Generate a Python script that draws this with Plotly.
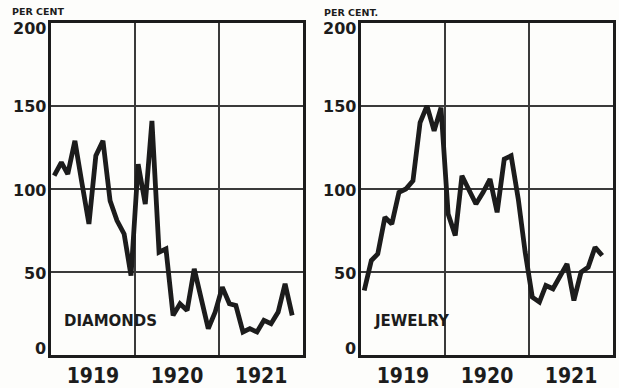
import pandas as pd
import plotly.graph_objects as go
from plotly.subplots import make_subplots

# monthly index values, Jan 1919 .. Nov 1921
months = pd.date_range("1919-01-01", periods=35, freq="MS") + pd.Timedelta(days=14)
diamonds = [108, 116, 109, 129, 104, 79, 120, 129, 93, 81, 73, 48,
            115, 91, 141, 62, 64, 24, 31, 27, 52, 35, 16, 26,
            41, 31, 30, 14, 16, 14, 21, 19, 26, 43, 24]
jewelry = [39, 57, 61, 83, 79, 98, 100, 105, 140, 150, 135, 149,
           85, 72, 108, 99, 91, 98, 106, 86, 118, 120, 94, 62,
           35, 32, 42, 40, 48, 55, 33, 50, 53, 65, 60]
y_ticks = [0, 50, 100, 150, 200]
panel_titles = ["DIAMONDS", "JEWELRY"]
unit_labels = ["PER CENT", "PER CENT."]

W, H = 619, 388
INK = "#1c1c1c"
GRID = "#3a3a3a"

fig = make_subplots(rows=1, cols=2)
for i, series in enumerate([diamonds, jewelry]):
    fig.add_trace(go.Scatter(x=months, y=series, mode="lines",
                             line=dict(color=INK, width=4.8),
                             hoverinfo="skip", showlegend=False),
                  row=1, col=i + 1)

doms_x = [[51 / W, 303 / W], [361 / W, 613 / W]]
dom_y = [1 - 359 / H, 1 - 23 / H]
xfont = dict(family="Liberation Sans Narrow, DejaVu Sans Condensed, sans-serif",
             size=21, color=INK, weight="bold")

for i in range(2):
    xa = "xaxis" if i == 0 else "xaxis2"
    ya = "yaxis" if i == 0 else "yaxis2"
    fig.layout[xa].update(domain=doms_x[i], type="date",
                          range=["1919-01-01", "1922-01-01"],
                          dtick="M12", tick0="1919-01-01", tickformat="%Y",
                          ticklabelmode="period", ticks="", showgrid=True,
                          gridcolor=GRID, gridwidth=2, showline=True,
                          mirror=True, linecolor=INK, linewidth=2.5,
                          tickfont=xfont, zeroline=False)
    fig.layout[ya].update(domain=dom_y, range=[0, 200], tickvals=y_ticks,
                          showticklabels=False, ticks="", showgrid=True,
                          gridcolor=GRID, gridwidth=2, showline=True,
                          mirror=True, linecolor=INK, linewidth=2.5,
                          zeroline=False)
    xr = "x domain" if i == 0 else "x2 domain"
    yr = "y" if i == 0 else "y2"
    for v in y_ticks:
        shift = -6 if v == 200 else (7 if v == 0 else -1)
        fig.add_annotation(x=0, xref=xr, y=v, yref=yr, text=str(v),
                           showarrow=False, xanchor="right", yanchor="middle",
                           xshift=-3, yshift=shift,
                           font=dict(family="DejaVu Sans", size=16,
                                     color=INK, weight="bold"))
    fig.add_annotation(x=0.045, xref=xr, y=0.103, yref=("y domain" if i == 0 else "y2 domain"),
                       text=panel_titles[i], showarrow=False,
                       xanchor="left", yanchor="middle",
                       font=dict(family="DejaVu Sans", size=15, color=INK,
                                 weight="bold"))

fig.add_annotation(x=10 / W, xref="paper", y=1 - 12 / H, yref="paper",
                   text=unit_labels[0], showarrow=False, xanchor="left",
                   yanchor="middle",
                   font=dict(family="DejaVu Sans", size=9.5, color=INK,
                             weight="bold"))
fig.add_annotation(x=322 / W, xref="paper", y=1 - 13 / H, yref="paper",
                   text=unit_labels[1], showarrow=False, xanchor="left",
                   yanchor="middle",
                   font=dict(family="DejaVu Sans", size=9.5, color=INK,
                             weight="bold"))

fig.update_layout(width=W, height=H, autosize=False,
                  margin=dict(l=0, r=0, t=0, b=0),
                  paper_bgcolor="#fdfdfb", plot_bgcolor="#fdfdfb")

fig.write_html("out.html", config={"displayModeBar": False},
               post_script="document.body.style.margin='0';document.body.style.overflow='hidden';")
